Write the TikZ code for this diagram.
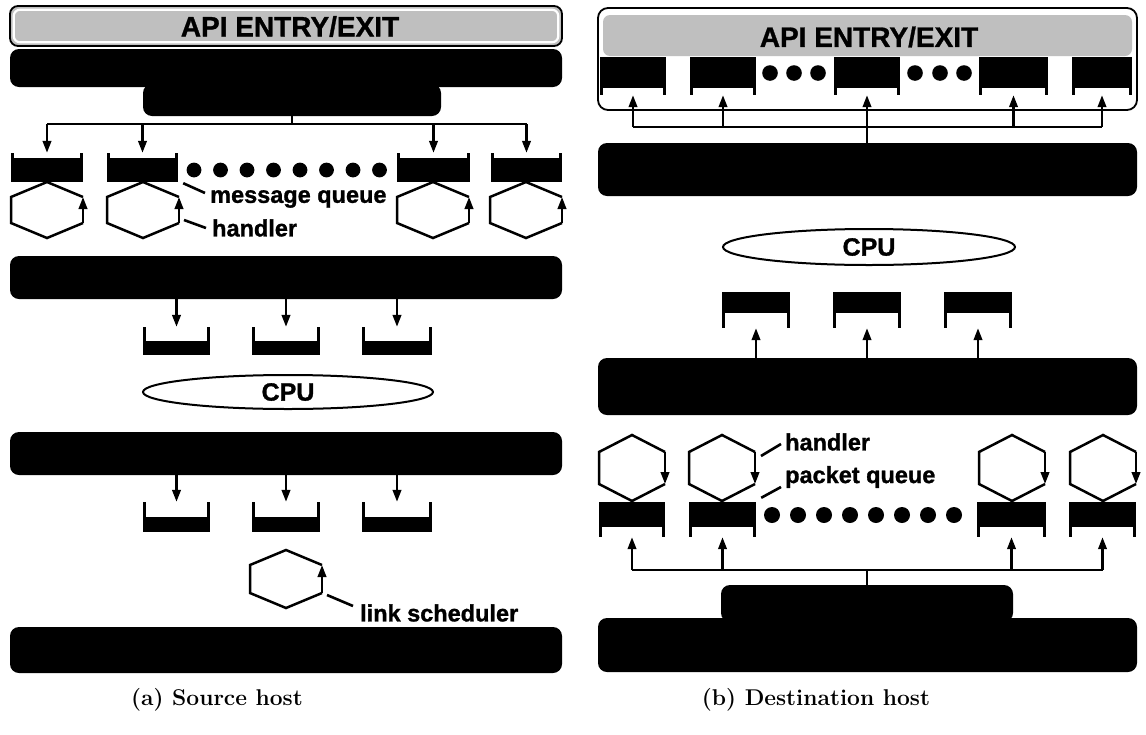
\documentclass[tikz,border=0pt]{standalone}
\usepackage{fontspec}
\newfontfamily\labfont{Liberation Sans Bold}[FakeBold=1.2]
\newfontfamily\apifont{Liberation Sans Bold}[FakeBold=1.0]
\usetikzlibrary{arrows.meta,shapes.geometric,fit,calc}

\tikzset{
  blackbar/.style={fill=black, draw=none, rounded corners=9pt, inner sep=0pt},
  apibar/.style={fill=gray!50, draw=black, line width=1.8pt, rounded corners=8pt, inner sep=0pt},
  apiinner/.style={fill=gray!50, draw=none, rounded corners=7pt, inner sep=0pt},
  apitext/.style={inner sep=0pt, font=\apifont\fontsize{28}{30}\selectfont},
  outerbox/.style={fill=white, draw=black, line width=1.8pt, rounded corners=10pt, inner sep=0pt},
  qbox/.style={inner sep=0pt, draw=none},
  leg/.style={line width=2.8pt},
  conn/.style={line width=2.4pt},
  arr/.style={line width=2.4pt, -{Triangle[length=12pt,width=8.5pt]}},
  hexline/.style={line width=2.5pt, line join=miter},
  lab/.style={font=\labfont\fontsize{23.5}{26}\selectfont, inner sep=0pt, anchor=west},
  lead/.style={line width=2.6pt},
  cpu/.style={ellipse, draw=black, line width=2pt, inner sep=0pt,
    font=\labfont\fontsize{25}{28}\selectfont},
  captext/.style={font=\bfseries\fontsize{22.8}{26}\selectfont, inner sep=0pt},
}

% open-top queue: name, x1, x2, ytop, yfilltop, ybottom
\newcommand\qup[6]{%
  \node[qbox, fit={(#2,#4) (#3,#6)}] (#1) {};
  \fill (#2,#5) rectangle (#3,#6);
  \draw[leg] ({#2+1.4},#4) -- ({#2+1.4},#6);
  \draw[leg] ({#3-1.4},#4) -- ({#3-1.4},#6);
}
% open-bottom queue: name, x1, x2, ytop, yfillbottom, ybottom
\newcommand\qdown[6]{%
  \node[qbox, fit={(#2,#4) (#3,#6)}] (#1) {};
  \fill (#2,#4) rectangle (#3,#5);
  \draw[leg] ({#2+1.4},#4) -- ({#2+1.4},#6);
  \draw[leg] ({#3-1.4},#4) -- ({#3-1.4},#6);
}
% hexagon corner coordinates: name, cx, cy, halfwidth, halfheight, halfside
\newcommand\hexa[6]{%
  \coordinate (#1) at (#2,#3);
  \coordinate (#1-t) at ({#2},{#3-#5});
  \coordinate (#1-b) at ({#2},{#3+#5});
  \coordinate (#1-ur) at ({#2+#4},{#3-#6});
  \coordinate (#1-lr) at ({#2+#4},{#3+#6});
  \coordinate (#1-ul) at ({#2-#4},{#3-#6});
  \coordinate (#1-ll) at ({#2-#4},{#3+#6});
}
\newcommand\hexupdraw[1]{%
  \draw[hexline] (#1-ur) -- (#1-t) -- (#1-ul) -- (#1-ll) -- (#1-b) -- (#1-lr);
  \draw[arr] (#1-lr) -- (#1-ur);
}
\newcommand\hexdowndraw[1]{%
  \draw[hexline] (#1-lr) -- (#1-b) -- (#1-ll) -- (#1-ul) -- (#1-t) -- (#1-ur);
  \draw[arr] (#1-ur) -- (#1-lr);
}

\begin{document}
\begin{tikzpicture}[x=1pt,y=-1pt]
\useasboundingbox (0,0) rectangle (1146,734);
\fill[white] (0,0) rectangle (1146,734);

%================ (a) Source host ================
\node[apibar, fit={(10,6) (562,46)}] (apia) {};
\draw[white, line width=2.2pt, rounded corners=6pt] (13.8,9.8) rectangle (558.2,42.2);
\node[apitext] (apiat) at (290,26.5) {API ENTRY/EXIT};
\node[blackbar, fit={(10,49) (562,87)}] (abar1) {};
\node[blackbar, fit={(143,84) (441,116)}] (abar2) {};
\coordinate (atA) at (292,124);

\qup{qa1}{11}{83}{153}{158}{182}
\qup{qa2}{107}{178}{153}{158}{182}
\qup{qa3}{397}{470}{153}{158}{182}
\qup{qa4}{491}{562}{153}{158}{182}
\draw[conn] (abar2.south) -- (abar2.south |- atA);
\draw[conn] (qa1.north |- atA) -- (qa4.north |- atA);
\foreach \q in {qa1,qa2,qa3,qa4} \draw[arr] (\q.north |- atA) -- (\q.north);

\foreach \i in {0,...,7} \fill ({194+26.5*\i},170) circle (7.4);

\hexa{ha1}{47}{210}{36}{28}{13}
\hexa{ha2}{143}{210}{36}{28}{13}
\hexa{ha3}{433}{210}{36}{28}{13}
\hexa{ha4}{526}{210}{36}{28}{13}
\foreach \h in {ha1,ha2,ha3,ha4} {\hexupdraw{\h}}

\node[lab] (lmq) at (210,199) {message queue};
\node[lab] (lha) at (212,228) {handler};
\draw[lead] ($(qa2.south east)+(5,1)$) -- ($(lmq.west)+(-5,-6)$);
\draw[lead] ($(ha2-lr)+(5,-3)$) -- ($(lha.west)+(-6,0)$);

\node[blackbar, fit={(10,256) (562,299)}] (abar3) {};
\qup{qb1}{143}{210}{327}{341}{355}
\qup{qb2}{252}{320}{327}{341}{355}
\qup{qb3}{362}{432}{327}{341}{355}
\foreach \q in {qb1,qb2,qb3} \draw[arr] (\q.north |- abar3.south) -- (\q.north);

\node[cpu, minimum width=290pt, minimum height=34pt] (cpua) at (288,392) {CPU};

\node[blackbar, fit={(10,432) (562,475)}] (abar4) {};
\qup{qc1}{143}{210}{502}{517}{532}
\qup{qc2}{252}{320}{502}{517}{532}
\qup{qc3}{362}{432}{502}{517}{532}
\foreach \q in {qc1,qc2,qc3} \draw[arr] (\q.north |- abar4.south) -- (\q.north);

\hexa{hl}{286}{579}{36}{29}{14}
\hexupdraw{hl}
\node[lab] (lls) at (360,613) {link scheduler};
\draw[lead] ($(hl-lr)+(5,2)$) -- ($(lls.west)+(-7,-7)$);

\node[blackbar, fit={(10,627) (562,673)}] (abar5) {};
\node[captext] (capa) at (217,700) {(a) Source host};

%================ (b) Destination host ================
\node[outerbox, fit={(598,8) (1137,110)}] (bbox) {};
\node[apiinner, fit={(603,15) (1132,56)}] (apib) {};
\node[apitext] (apibt) at (869,37) {API ENTRY/EXIT};
\fill (603,57) rectangle (612,88);
\qdown{rs1}{600}{666}{57}{88}{95}
\qdown{rs2}{690}{756}{57}{88}{95}
\qdown{rs3}{834}{900}{57}{88}{95}
\qdown{rs4}{979}{1048}{57}{88}{95}
\qdown{rs5}{1072}{1132}{57}{88}{95}
\foreach \x in {770,794,818,915,940,964} \fill (\x,73) circle (7.8);

\node[blackbar, fit={(598,143) (1137,196)}] (bbar1) {};
\coordinate (btA) at (867,127);
\draw[arr] (bbar1.north -| rs3.south) -- (rs3.south);
\draw[conn] (rs1.south |- btA) -- (rs5.south |- btA);
\foreach \q in {rs1,rs2,rs4,rs5} \draw[arr] (\q.south |- btA) -- (\q.south);

\node[cpu, minimum width=292pt, minimum height=36pt] (cpub) at (869,247) {CPU};

\qdown{rm1}{722}{790}{292}{313}{328}
\qdown{rm2}{833}{901}{292}{313}{328}
\qdown{rm3}{944}{1012}{292}{313}{328}
\node[blackbar, fit={(598,358) (1137,415)}] (bbar2) {};
\foreach \q in {rm1,rm2,rm3} \draw[arr] (\q.south |- bbar2.north) -- (\q.south);

\hexa{hb1}{632}{468}{33}{33}{16}
\hexa{hb2}{722}{468}{33}{33}{16}
\hexa{hb3}{1012}{468}{33}{33}{16}
\hexa{hb4}{1103}{468}{33}{33}{16}
\foreach \h in {hb1,hb2,hb3,hb4} {\hexdowndraw{\h}}

\qdown{rq1}{599}{665}{502}{527}{537}
\qdown{rq2}{689}{756}{502}{527}{537}
\qdown{rq3}{977}{1046}{502}{527}{537}
\qdown{rq4}{1069}{1136}{502}{527}{537}
\foreach \i in {0,...,7} \fill ({772+26*\i},515) circle (8);

\node[lab] (lhb) at (785,442) {handler};
\node[lab] (lpq) at (785,477) {packet queue};
\draw[lead] ($(hb2-ur)+(6,4)$) -- ($(lhb.west)+(-4,2)$);
\draw[lead] ($(rq2.north east)+(5,-4)$) -- ($(lpq.west)+(-4,10)$);

\node[blackbar, fit={(598,618) (1137,672)}] (bbar4) {};
\node[blackbar, fit={(721,585) (1013,622)}] (bbar3) {};
\coordinate (btB) at (867,570);
\draw[conn] (bbar3.north) -- (bbar3.north |- btB);
\draw[conn] (rq1.south |- btB) -- (rq4.south |- btB);
\foreach \q in {rq1,rq2,rq3,rq4} \draw[arr] (\q.south |- btB) -- (\q.south);

\node[captext] (capb) at (816,700) {(b) Destination host};
\end{tikzpicture}
\end{document}
